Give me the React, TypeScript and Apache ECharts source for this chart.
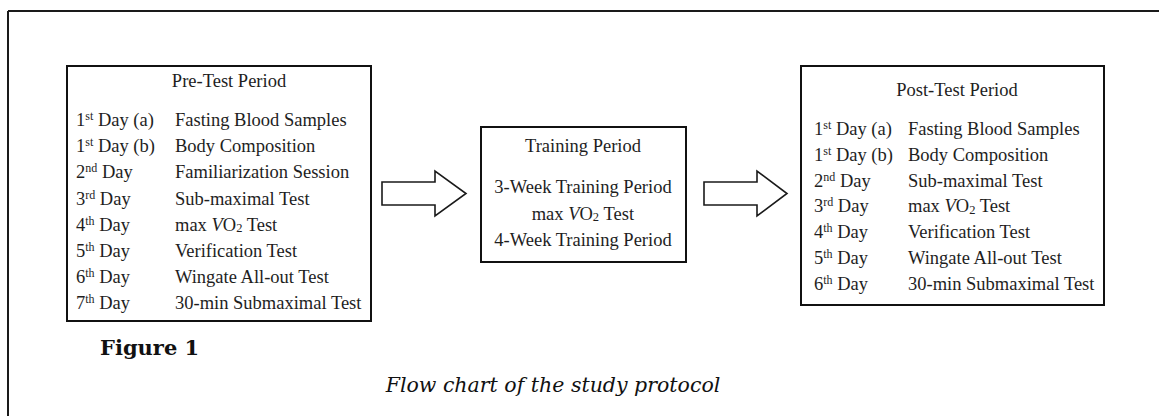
import React, { useEffect, useRef } from "react";
import * as echarts from "echarts";

// Rows: [day label (rich), activity (rich)]
const preTitle = "Pre-Test Period";
const preDays = ["1{sup|st} Day (a)", "1{sup|st} Day (b)", "2{sup|nd} Day", "3{sup|rd} Day", "4{sup|th} Day", "5{sup|th} Day", "6{sup|th} Day", "7{sup|th} Day"];
const preTests = ["Fasting Blood Samples", "Body Composition", "Familiarization Session", "Sub-maximal Test", "max {i|V}O{sub|2} Test", "Verification Test", "Wingate All-out Test", "30-min Submaximal Test"];

const trainTitle = "Training Period";
const trainLines = ["3-Week Training Period", "max {i|V}O{sub|2} Test", "4-Week Training Period"];

const postTitle = "Post-Test Period";
const postDays = ["1{sup|st} Day (a)", "1{sup|st} Day (b)", "2{sup|nd} Day", "3{sup|rd} Day", "4{sup|th} Day", "5{sup|th} Day", "6{sup|th} Day"];
const postTests = ["Fasting Blood Samples", "Body Composition", "Sub-maximal Test", "max {i|V}O{sub|2} Test", "Verification Test", "Wingate All-out Test", "30-min Submaximal Test"];

const figureLabel = "Figure 1";
const caption = "Flow chart of the study protocol";

const FONT = "'Liberation Serif', 'Times New Roman', serif";
const TXT = "#1e1e1e";
const FS = 18.5;

const rich = {
  sup: { fontSize: 12, verticalAlign: "top", fontFamily: FONT, fill: TXT, lineHeight: 20 },
  sub: { fontSize: 12.5, verticalAlign: "bottom", fontFamily: FONT, fill: TXT, lineHeight: 20 },
  i: { fontSize: FS, fontStyle: "italic", fontFamily: FONT, fill: TXT, lineHeight: 20 },
};

function txt(text: string, x: number, y: number, align = "left", extra: any = {}) {
  return {
    type: "text",
    x,
    y,
    style: {
      text,
      fontSize: FS,
      fontFamily: FONT,
      fill: TXT,
      align,
      verticalAlign: "middle",
      textAlign: align,
      textVerticalAlign: "middle",
      lineHeight: 20,
      rich,
      ...extra,
    },
  };
}

function arrow(x0: number, xh: number, xt: number) {
  return {
    type: "polygon",
    shape: {
      points: [
        [x0, 182],
        [xh, 182],
        [xh, 171],
        [xt, 193.5],
        [xh, 216],
        [xh, 205],
        [x0, 205],
      ],
    },
    style: { fill: "#fff", stroke: "#1a1a1a", lineWidth: 1.6 },
  };
}

export default function App() {
  const ref = useRef<HTMLDivElement>(null);
  useEffect(() => {
    if (!ref.current) return;
    const chart = echarts.init(ref.current, undefined, { renderer: "svg" });
    const els: any[] = [];
    // outer frame (top and left)
    els.push({ type: "line", shape: { x1: 8, y1: 11, x2: 1159, y2: 11 }, style: { stroke: "#1a1a1a", lineWidth: 2 } });
    els.push({ type: "line", shape: { x1: 8, y1: 11, x2: 8, y2: 416 }, style: { stroke: "#1a1a1a", lineWidth: 2 } });

    // Pre-test box
    els.push({ type: "rect", shape: { x: 67, y: 66, width: 304, height: 255 }, style: { fill: "#fff", stroke: "#111", lineWidth: 2 } });
    els.push(txt(preTitle, 229, 81, "center"));
    preDays.forEach((d, i) => {
      const y = 120 + i * 26.2;
      els.push(txt(d, 76, y));
      els.push(txt(preTests[i], 175, y));
    });

    // arrows
    els.push(arrow(382, 435, 466));
    els.push(arrow(704, 757, 787));

    // Training box
    els.push({ type: "rect", shape: { x: 481, y: 127, width: 205, height: 135 }, style: { fill: "#fff", stroke: "#111", lineWidth: 2 } });
    els.push(txt(trainTitle, 583, 146, "center"));
    trainLines.forEach((l, i) => {
      els.push(txt(l, 583, 187 + i * 26.5, "center"));
    });

    // Post-test box
    els.push({ type: "rect", shape: { x: 801, y: 66, width: 303, height: 239 }, style: { fill: "#fff", stroke: "#111", lineWidth: 2 } });
    els.push(txt(postTitle, 957, 90, "center"));
    postDays.forEach((d, i) => {
      const y = 129 + i * 25.8;
      els.push(txt(d, 814, y));
      els.push(txt(postTests[i], 908, y));
    });

    // Figure label and caption
    els.push(txt(figureLabel, 100, 347, "left", { fontFamily: "'DejaVu Serif', serif", fontWeight: "bold", fontSize: 21, fill: "#111", lineHeight: 24 }));
    els.push(txt(caption, 553, 385, "center", { fontFamily: "'DejaVu Serif', serif", fontStyle: "italic", fontSize: 20.5, fill: "#111", lineHeight: 24 }));

    chart.setOption({
      animation: false,
      backgroundColor: "#fff",
      graphic: { elements: els },
    });
    return () => chart.dispose();
  }, []);
  return <div ref={ref} style={{ position: "fixed", left: 0, top: 0, width: 1159, height: 416, background: "#fff" }} />;
}
